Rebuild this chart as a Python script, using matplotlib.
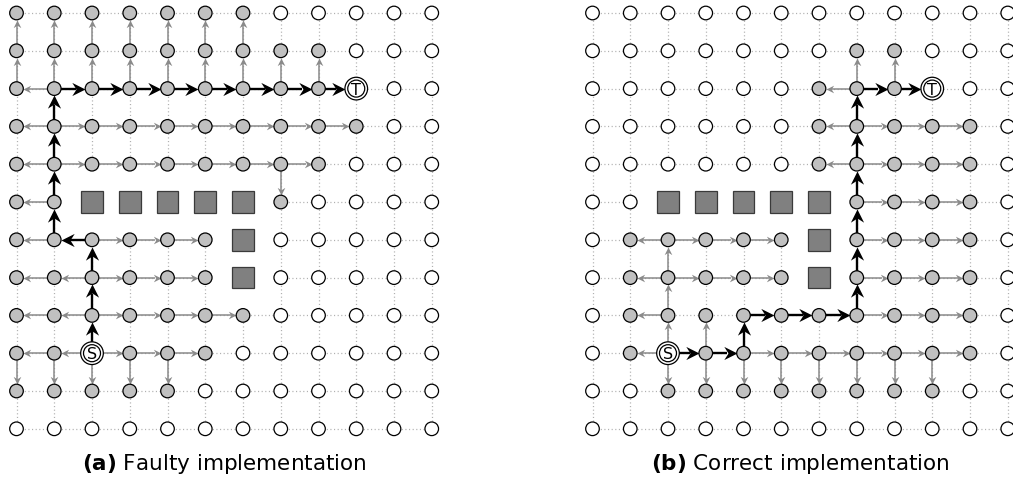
import matplotlib
matplotlib.use("Agg")
import matplotlib.pyplot as plt
import numpy as np
from matplotlib.patches import Circle, Rectangle
from matplotlib.markers import MarkerStyle
from matplotlib.path import Path
from matplotlib.transforms import Affine2D

N_COLS, N_ROWS = 12, 12
OBSTACLES = [(2, 5), (3, 5), (4, 5), (5, 5), (6, 5), (6, 6), (6, 7)]
START = (2, 9)
TARGET = (9, 2)

# closed (grey) cells per row
VISITED_A = {
    0: [0, 1, 2, 3, 4, 5, 6],
    1: [0, 1, 2, 3, 4, 5, 6, 7, 8],
    2: [0, 1, 2, 3, 4, 5, 6, 7, 8],
    3: [0, 1, 2, 3, 4, 5, 6, 7, 8, 9],
    4: [0, 1, 2, 3, 4, 5, 6, 7, 8],
    5: [0, 1, 7],
    6: [0, 1, 2, 3, 4, 5],
    7: [0, 1, 2, 3, 4, 5],
    8: [0, 1, 2, 3, 4, 5, 6],
    9: [0, 1, 3, 4, 5],
    10: [0, 1, 2, 3, 4],
}
VISITED_B = {
    1: [7, 8],
    2: [6, 7, 8],
    3: [6, 7, 8, 9, 10],
    4: [6, 7, 8, 9, 10],
    5: [7, 8, 9, 10],
    6: [1, 2, 3, 4, 5, 7, 8, 9, 10],
    7: [1, 2, 3, 4, 5, 7, 8, 9, 10],
    8: [1, 2, 3, 4, 5, 6, 7, 8, 9, 10],
    9: [1, 3, 4, 5, 6, 7, 8, 9, 10],
    10: [2, 3, 4, 5, 6, 7, 8, 9],
}

# parent -> child pointer chains (grey arrows)
GRAY_A = [
    [(0, 2), (0, 1), (0, 0)], [(1, 2), (1, 1), (1, 0)], [(2, 2), (2, 1), (2, 0)],
    [(3, 2), (3, 1), (3, 0)], [(4, 2), (4, 1), (4, 0)], [(5, 2), (5, 1), (5, 0)],
    [(6, 2), (6, 1), (6, 0)], [(7, 2), (7, 1)], [(8, 2), (8, 1)],
    [(1, 2), (0, 2)],
    [(1, 3), (0, 3)],
    [(1, 3), (2, 3), (3, 3), (4, 3), (5, 3), (6, 3), (7, 3), (8, 3), (9, 3)],
    [(1, 4), (0, 4)],
    [(1, 4), (2, 4), (3, 4), (4, 4), (5, 4), (6, 4), (7, 4), (8, 4)],
    [(7, 4), (7, 5)],
    [(1, 5), (0, 5)],
    [(1, 6), (0, 6)], [(2, 6), (3, 6), (4, 6), (5, 6)],
    [(2, 7), (1, 7), (0, 7)], [(2, 7), (3, 7), (4, 7), (5, 7)],
    [(2, 8), (1, 8), (0, 8)], [(2, 8), (3, 8), (4, 8), (5, 8), (6, 8)],
    [(2, 9), (1, 9), (0, 9)], [(2, 9), (3, 9), (4, 9), (5, 9)],
    [(0, 9), (0, 10)], [(1, 9), (1, 10)], [(2, 9), (2, 10)],
    [(3, 9), (3, 10)], [(4, 9), (4, 10)],
]
GRAY_B = [
    [(7, 2), (7, 1)], [(8, 2), (8, 1)], [(7, 2), (6, 2)],
    [(7, 3), (6, 3)], [(7, 3), (8, 3), (9, 3), (10, 3)],
    [(7, 4), (6, 4)], [(7, 4), (8, 4), (9, 4), (10, 4)],
    [(7, 5), (8, 5), (9, 5), (10, 5)],
    [(7, 6), (8, 6), (9, 6), (10, 6)],
    [(7, 7), (8, 7), (9, 7), (10, 7)],
    [(7, 8), (8, 8), (9, 8), (10, 8)],
    [(2, 9), (2, 8), (2, 7), (2, 6)],
    [(2, 6), (1, 6)], [(2, 6), (3, 6), (4, 6), (5, 6)],
    [(2, 7), (1, 7)], [(2, 7), (3, 7), (4, 7), (5, 7)],
    [(2, 8), (1, 8)],
    [(2, 9), (1, 9)], [(3, 9), (3, 8)],
    [(4, 9), (5, 9), (6, 9), (7, 9), (8, 9), (9, 9), (10, 9)],
    [(2, 9), (2, 10)], [(3, 9), (3, 10)], [(4, 9), (4, 10)], [(5, 9), (5, 10)],
    [(6, 9), (6, 10)], [(7, 9), (7, 10)], [(8, 9), (8, 10)], [(9, 9), (9, 10)],
]

PATH_A = [(2, 9), (2, 8), (2, 7), (2, 6), (1, 6), (1, 5), (1, 4), (1, 3), (1, 2),
          (2, 2), (3, 2), (4, 2), (5, 2), (6, 2), (7, 2), (8, 2), (9, 2)]
PATH_B = [(2, 9), (3, 9), (4, 9), (4, 8), (5, 8), (6, 8), (7, 8), (7, 7), (7, 6),
          (7, 5), (7, 4), (7, 3), (7, 2), (8, 2), (9, 2)]

CAPTIONS = [r"$\mathbf{(a)}$ Faulty implementation",
            r"$\mathbf{(b)}$ Correct implementation"]

NODE_GREY = "#c0c0c0"
ARROW_GREY = "#8a8a8a"
DOT_GREY = "#b0b0b0"
R_NODE = 0.18
R_RING = 0.30
STEALTH = Path([(0, 0), (-1, 0.5), (-0.68, 0), (-1, -0.5), (0, 0)],
               [Path.MOVETO, Path.LINETO, Path.LINETO, Path.LINETO, Path.CLOSEPOLY])
PX = 37.75  # pixels per grid step


def radius(n):
    return R_RING if n in (START, TARGET) else R_NODE


def arrow(ax, a, b, color, lw, ms, z):
    dx, dy = b[0] - a[0], b[1] - a[1]
    x0, y0 = a[0] + dx * radius(a), a[1] + dy * radius(a)
    x1, y1 = b[0] - dx * radius(b), b[1] - dy * radius(b)
    head = ms / 2 / 0.72 / PX
    ax.plot([x0, x1 - dx * head * 0.7], [y0, y1 - dy * head * 0.7],
            color=color, lw=lw, solid_capstyle="butt", zorder=z)
    ang = np.degrees(np.arctan2(-dy, dx))
    mk = MarkerStyle(STEALTH, transform=Affine2D().rotate_deg(ang))
    ax.plot([x1], [y1], marker=mk, markersize=ms, color=color, mew=0,
            linestyle="none", zorder=z)


def draw_panel(ax, visited, gray, path):
    ax.axis("off")
    blocked = set(OBSTACLES)
    for r in range(N_ROWS):
        for c in range(N_COLS):
            if (c, r) in blocked:
                continue
            for nb in ((c + 1, r), (c, r + 1)):
                if nb[0] < N_COLS and nb[1] < N_ROWS and nb not in blocked:
                    ax.plot([c, nb[0]], [r, nb[1]], color=DOT_GREY, lw=0.9,
                            ls=(0, (0.9, 2.0)), zorder=1)
    for chain in gray:
        for a, b in zip(chain[:-1], chain[1:]):
            arrow(ax, a, b, ARROW_GREY, 1.1, 11, 2)
    for a, b in zip(path[:-1], path[1:]):
        arrow(ax, a, b, "black", 1.7, 19, 3)
    for r in range(N_ROWS):
        for c in range(N_COLS):
            if (c, r) in blocked:
                ax.add_patch(Rectangle((c - 0.285, r - 0.285), 0.57, 0.57,
                                       fc="#808080", ec="#3a3a3a", lw=0.9, zorder=4))
            elif (c, r) in (START, TARGET):
                ax.add_patch(Circle((c, r), R_RING, fc="white", ec="black", lw=0.9, zorder=4))
                ax.add_patch(Circle((c, r), 0.225, fc="white", ec="black", lw=0.9, zorder=4))
                ax.text(c, r + 0.02, "S" if (c, r) == START else "T", ha="center",
                        va="center", fontsize=11.5, zorder=5)
            else:
                fc = NODE_GREY if c in visited.get(r, []) else "white"
                ax.add_patch(Circle((c, r), R_NODE, fc=fc, ec="black", lw=0.9, zorder=4))


fig = plt.figure(figsize=(10.13, 4.85), dpi=100)
W, H = 1013.0, 485.0
# pixel layout: grid (a) at x=16.5+37.75c, grid (b) at x=592.5+37.75c, rows at y=14+37.8r
y_top, y_bot = 0.0, 445.0
ylim = ((y_bot - 14) / 37.8, (y_top - 14) / 37.8)
panels = [(0.0, 460.0, 16.5, VISITED_A, GRAY_A, PATH_A),
          (560.0, 1013.0, 592.5, VISITED_B, GRAY_B, PATH_B)]
for i, (x_l, x_r, x0, vis, gray, path) in enumerate(panels):
    ax = fig.add_axes([x_l / W, (H - y_bot) / H, (x_r - x_l) / W, (y_bot - y_top) / H])
    ax.set_xlim((x_l - x0) / PX, (x_r - x0) / PX)
    ax.set_ylim(*ylim)
    draw_panel(ax, vis, gray, path)
    fig.text((x0 + 5.5 * PX) / W, (H - 464) / H, CAPTIONS[i], ha="center",
             va="center", fontsize=15.5)

fig.savefig("out.png", dpi=100, facecolor="white")
